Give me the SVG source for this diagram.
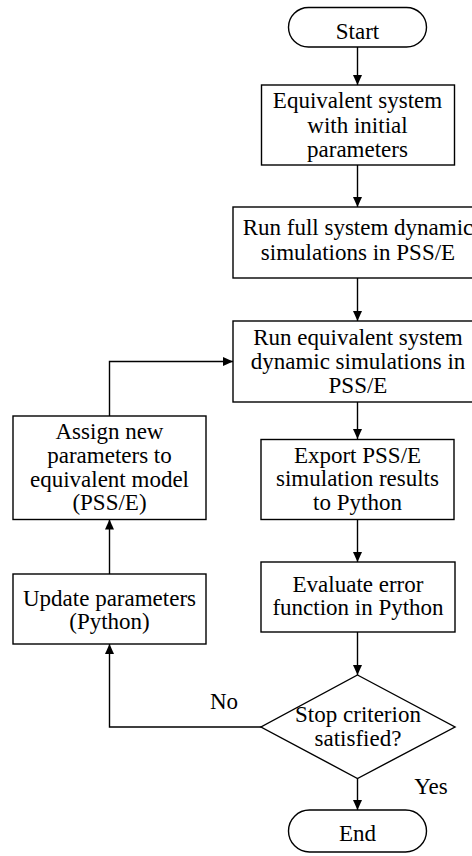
<svg xmlns="http://www.w3.org/2000/svg" width="472" height="856" viewBox="0 0 472 856">
<defs>
<style>
.n{fill:#fff;stroke:#000;stroke-width:1.4}
.t{font-family:"Liberation Serif","Times New Roman",serif;font-size:23px;fill:#000;text-anchor:middle}
.c{fill:none;stroke:#000;stroke-width:1.4}
</style>
<marker id="ah" markerUnits="userSpaceOnUse" markerWidth="10" markerHeight="10" viewBox="0 0 10 10" refX="10" refY="5" orient="auto">
<path d="M0,0.5 L10,5 L0,9.5 Z" fill="#000"/>
</marker>
</defs>
<rect width="472" height="856" fill="#fff"/>
<g id="connectors">
<path class="c" d="M357.5,47 V85" marker-end="url(#ah)"/>
<path class="c" d="M357.5,165 V207" marker-end="url(#ah)"/>
<path class="c" d="M357.5,278 V321" marker-end="url(#ah)"/>
<path class="c" d="M357.5,402 V439" marker-end="url(#ah)"/>
<path class="c" d="M357.5,519 V562" marker-end="url(#ah)"/>
<path class="c" d="M357.5,632 V675" marker-end="url(#ah)"/>
<path class="c" d="M357.5,778 V810" marker-end="url(#ah)"/>
<path class="c" d="M261,727 H109.5 V644" marker-end="url(#ah)"/>
<path class="c" d="M109.5,574 V519.5" marker-end="url(#ah)"/>
<path class="c" d="M109.5,416 V361.5 H233" marker-end="url(#ah)"/>
</g>
<g id="start">
<rect class="n" x="288.5" y="7.5" width="138" height="39.5" rx="20" ry="20"/>
<text class="t" x="357.5" y="38.5">Start</text>
</g>
<g id="init">
<rect class="n" x="261.5" y="85" width="193" height="80"/>
<text class="t" x="357.5" y="108">Equivalent system</text>
<text class="t" x="357.5" y="132.5">with initial</text>
<text class="t" x="357.5" y="157">parameters</text>
</g>
<g id="fullsim">
<rect class="n" x="233" y="207" width="250" height="71"/>
<text class="t" x="358" y="235">Run full system dynamic</text>
<text class="t" x="358" y="260">simulations in PSS/E</text>
</g>
<g id="eqsim">
<rect class="n" x="233" y="321" width="250" height="81"/>
<text class="t" x="358" y="345">Run equivalent system</text>
<text class="t" x="358" y="368.5">dynamic simulations in</text>
<text class="t" x="358" y="392.5">PSS/E</text>
</g>
<g id="export">
<rect class="n" x="261" y="439.5" width="193" height="80"/>
<text class="t" x="357.5" y="462.5">Export PSS/E</text>
<text class="t" x="357.5" y="486">simulation results</text>
<text class="t" x="357.5" y="510">to Python</text>
</g>
<g id="evaluate">
<rect class="n" x="261" y="562" width="194" height="70"/>
<text class="t" x="358" y="591.5">Evaluate error</text>
<text class="t" x="358" y="615">function in Python</text>
</g>
<g id="decision">
<polygon class="n" points="357.5,675 455,727 357.5,778.5 261,727"/>
<text class="t" x="358" y="721.5">Stop criterion</text>
<text class="t" x="358" y="746">satisfied?</text>
</g>
<g id="end">
<rect class="n" x="288.5" y="810" width="138" height="42" rx="21" ry="21"/>
<text class="t" x="357.5" y="840.5">End</text>
</g>
<g id="assign">
<rect class="n" x="13" y="416" width="193" height="103.5"/>
<text class="t" x="109.5" y="438.5">Assign new</text>
<text class="t" x="109.5" y="462.5">parameters to</text>
<text class="t" x="109.5" y="486.5">equivalent model</text>
<text class="t" x="109.5" y="510">(PSS/E)</text>
</g>
<g id="update">
<rect class="n" x="13" y="574" width="193" height="70"/>
<text class="t" x="109.5" y="606">Update parameters</text>
<text class="t" x="109.5" y="629">(Python)</text>
</g>
<g id="labels">
<text class="t" x="224" y="708.5">No</text>
<text class="t" x="431" y="793.5">Yes</text>
</g>
</svg>
